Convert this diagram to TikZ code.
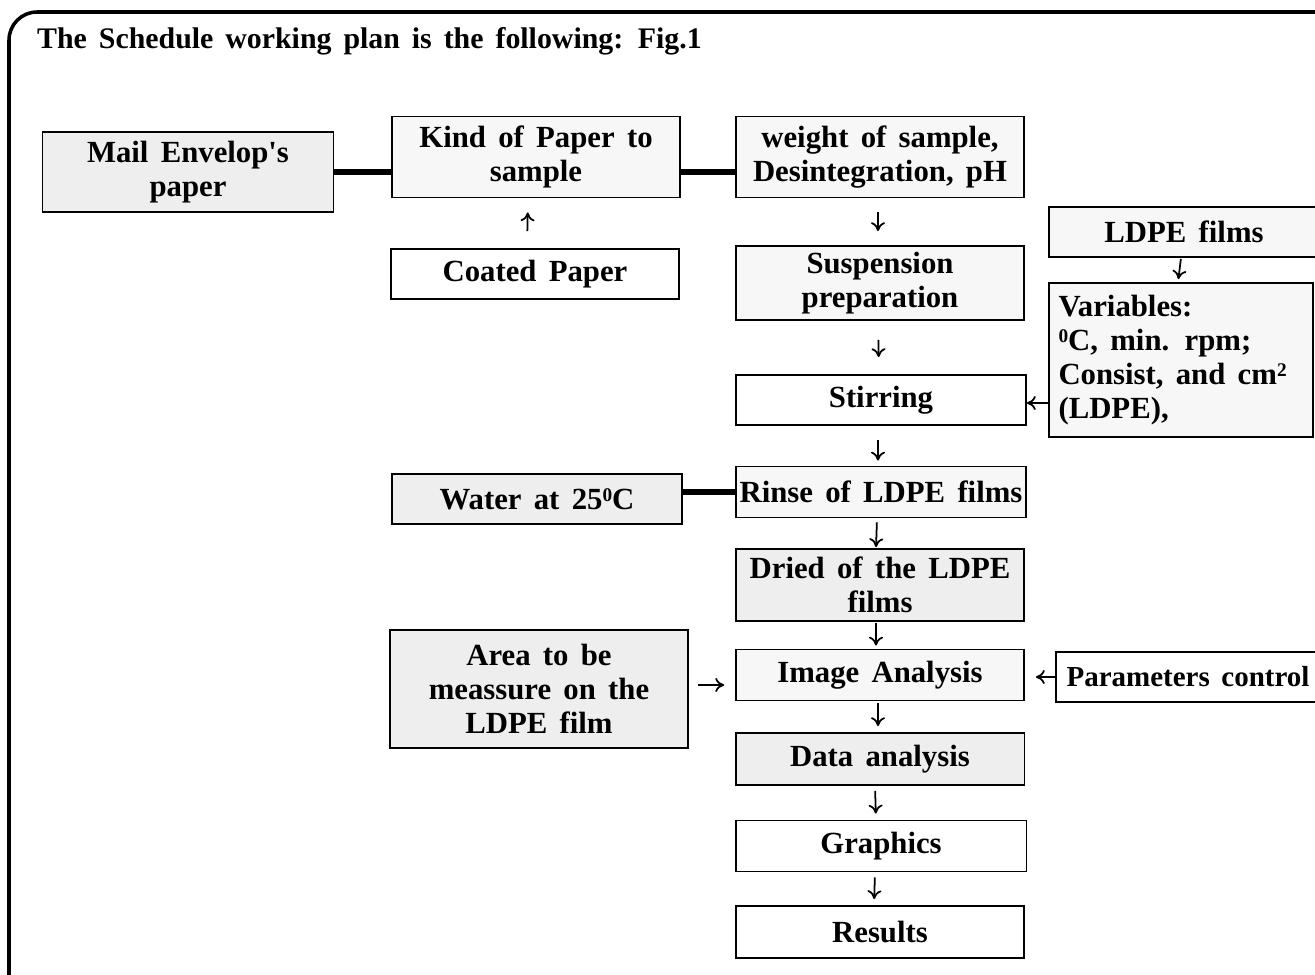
\documentclass[tikz,border=0pt]{standalone}
\usepackage{fontspec}
\setmainfont{Liberation Serif}[Ligatures=TeXOff]
\usetikzlibrary{arrows.meta}
\newcommand{\widesp}{\spaceskip=0.4em plus 0.1em\relax}
\newcommand{\supsmall}[1]{\raisebox{0.55ex}{\fontsize{11}{11}\selectfont #1}}
\tikzset{
    box/.style={draw, line width=1.1pt, inner sep=2pt, align=center,
        font=\fontsize{17.5}{19.5}\selectfont\bfseries, execute at begin node=\widesp},
    shaded/.style={box, fill=gray!13},
    faint/.style={box, fill=gray!6},
    link/.style={line width=3pt},
    arr/.style={line width=1pt, -{To[length=5pt,width=8pt]}}
}
\begin{document}
\begin{tikzpicture}[x=0.02cm, y=-0.02cm]
    \useasboundingbox (0,0) rectangle (1315,974);
    \clip (0,0) rectangle (1315,974);
    % Frame and title
    \draw[line width=2pt, rounded corners=16pt] (9,12) rectangle (1400,1060);
    \node[anchor=west, font=\fontsize{17}{19}\selectfont\bfseries, execute at begin node=\widesp]
        (title) at (31,41) {The Schedule working plan is the following: Fig.1};
    % Top row
    \node[shaded, minimum width=5.82cm, minimum height=1.6cm]
        (mail) at (188,172) {Mail Envelop's\\paper};
    \node[faint, minimum width=5.76cm, minimum height=1.62cm]
        (kind) at (536,157) {Kind of Paper to\\sample};
    \node[faint, minimum width=5.76cm, minimum height=1.62cm]
        (weight) at (880,157) {weight of sample,\\Desintegration, pH};
    \node[box, minimum width=5.76cm, minimum height=1cm]
        (coated) at (535,274) {Coated Paper};
    % Main column
    \node[faint, minimum width=5.76cm, minimum height=1.48cm]
        (susp) at (880,283) {Suspension\\preparation};
    \node[box, minimum width=5.8cm, minimum height=1cm]
        (stir) at (881,400) {Stirring};
    \node[faint, minimum width=5.76cm, minimum height=1.02cm]
        (rinse) at (881,492) {Rinse of LDPE films};
    \node[shaded, minimum width=5.76cm, minimum height=1.44cm]
        (dried) at (880,585) {Dried of the LDPE\\films};
    \node[faint, minimum width=5.76cm, minimum height=1.02cm]
        (image) at (880,675) {Image Analysis};
    \node[shaded, minimum width=5.78cm, minimum height=1.04cm]
        (data) at (880,759) {Data analysis};
    \node[box, minimum width=5.82cm, minimum height=1.02cm]
        (graph) at (881,846) {Graphics};
    \node[box, minimum width=5.76cm, minimum height=1.04cm]
        (results) at (880,932) {Results};
    % Right side
    \node[faint, minimum width=5.42cm, minimum height=1cm]
        (ldpe) at (1184,232) {LDPE films};
    \node[faint, minimum width=5.28cm, minimum height=3.08cm, align=left, text width=4.9cm]
        (var) at (1181,360) {Variables:\\\supsmall{0}C, min. rpm;\\Consist, and cm\supsmall{2}\\(LDPE),};
    \node[box, minimum width=5.28cm, minimum height=1cm, inner sep=0pt, execute at begin node={},
        font=\fontsize{16.5}{18}\selectfont\bfseries]
        (param) at (1188,677) {Parameters control};
    % Left side
    \node[shaded, minimum width=5.8cm, minimum height=1cm]
        (water) at (537,499) {Water at 25\supsmall{0}C};
    \node[shaded, minimum width=5.96cm, minimum height=2.36cm]
        (area) at (539,689) {Area to be\\meassure on the\\LDPE film};
    % Thick links
    \draw[link] (mail.east) -- (mail.east -| kind.west);
    \draw[link] (mail.east -| kind.east) -- (mail.east -| weight.west);
    \draw[link] (rinse.west -| water.east) -- (rinse.west);
    % Arrows
    \draw[arr, shorten <=0.34cm, shorten >=0.28cm] ([xshift=-0.16cm]coated.north) -- ([xshift=-0.16cm]kind.south);
    \draw[arr, shorten <=0.28cm, shorten >=0.28cm] ([xshift=-0.04cm]weight.south) -- ([xshift=-0.04cm]susp.north);
    \draw[arr, shorten <=0.38cm, shorten >=0.34cm] ([xshift=-0.04cm]susp.south) -- ([xshift=-0.04cm]stir.north);
    \draw[arr, shorten <=0.28cm, shorten >=0.1cm] ([xshift=-0.06cm]stir.south) -- ([xshift=-0.06cm]rinse.north);
    \draw[arr, shorten <=0.08cm, shorten >=0.02cm] ([xshift=-0.08cm]rinse.south) -- ([xshift=-0.08cm]dried.north);
    \draw[arr, shorten <=0.02cm, shorten >=0.06cm] ([xshift=-0.08cm]dried.south) -- ([xshift=-0.08cm]image.north);
    \draw[arr, shorten <=0.04cm, shorten >=0.12cm] ([xshift=-0.04cm]image.south) -- ([xshift=-0.04cm]data.north);
    \draw[arr, shorten <=0.1cm, shorten >=0.12cm] ([xshift=-0.1cm]data.south) -- ([xshift=-0.1cm]graph.north);
    \draw[arr, shorten <=0.1cm, shorten >=0.12cm] ([xshift=-0.12cm]graph.south) -- ([xshift=-0.12cm]results.north);
    \draw[arr, shorten <=0.02cm, shorten >=0.06cm] ([xshift=-0.06cm]ldpe.south) -- ([xshift=-0.06cm]var.north);
    \draw[arr] (var.west |- 0,403) -- (stir.east |- 0,403);
    \draw[arr, shorten >=0.22cm] (param.west) -- (param.west -| image.east);
    \draw[arr, shorten <=0.18cm, shorten >=0.22cm] (area.east |- 0,685) -- (image.west |- 0,685);
\end{tikzpicture}
\end{document}
